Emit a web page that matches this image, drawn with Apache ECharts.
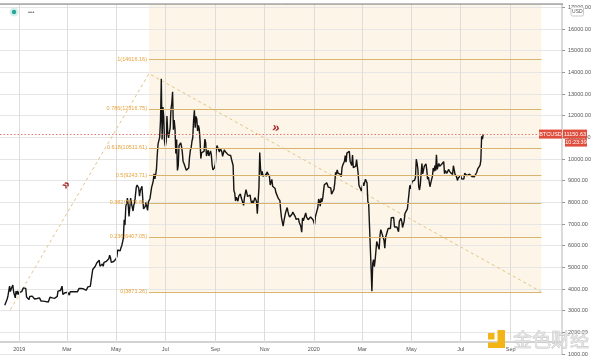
<!DOCTYPE html>
<html>
<head>
<meta charset="utf-8">
<script src="https://cdn.jsdelivr.net/npm/echarts@6/dist/echarts.min.js"></script>
<style>html,body{margin:0;padding:0;background:#fff;}#c{width:600px;height:357px;}</style>
</head>
<body>
<div id="c"></div>
<script>
// ---- Daily BTCUSD values (month blocks) ----
const dec2018 = [3250,3180,3250,3540,3690,3760,4130,3880,4010,3980,4180,3860,3880,3590,3900,3750,3910,3740];
const jan2019 = [3850,3930,3840,3880,3860,4050,4000,4010,4030,3630,3630,3610,3510,3660,3580,3630,3670,3620,3720,3540,3550,3590,3560,3600,3590,3590,3550,3440,3410,3460,3440];
const feb2019 = [3470,3500,3420,3430,3450,3400,3400,3620,3620,3660,3590,3600,3590,3570,3580,3610,3660,3900,3910,3970,3930,3990,4130,3750,3830,3810,3830,3830];
const mar2019 = [3840,3850,3820,3720,3870,3880,3890,3870,3940,3920,3870,3880,3870,3870,3920,4020,3990,3990,4030,4050,3990,4000,4010,4000,3940,3950,4100,4080,4150,4120,4120];
const apr2019 = [4140,4900,4980,4900,5040,5060,5200,5280,5180,5330,5050,5080,5080,5150,5050,5230,5260,5300,5280,5340,5300,5400,5560,5450,5230,5280,5280,5270,5250,5330];
const may2019 = [5400,5500,5800,5830,5780,5760,5900,6000,6170,6350,7200,6950,7800,7950,8200,7880,7350,7260,8200,7950,7950,7600,7880,7990,8050,8700,8800,8720,8660,8280,8550];
const jun2019 = [8560,8740,8200,7700,7790,7800,8000,7930,7630,8010,7920,8180,8230,8690,8830,8980,9320,9080,9270,9530,10200,10700,10850,11010,11770,13700,10900,12400,11960,10820];
const jul2019 = [10580,10800,11980,11210,10980,11220,11450,12300,12570,13100,11350,11800,11390,10250,10900,9470,9700,10620,10570,10750,10590,10330,9900,9800,9880,9850,9480,9530,9510,9590,10090];
const aug2019 = [10400,10520,10820,10980,11790,12250,11450,11970,11850,11290,11550,11390,10860,10020,10300,10360,10230,10350,10920,10760,10140,10120,10410,10140,10140,10370,10190,9720,9500,9580,9600];
const sep2019 = [9760,10390,10620,10590,10580,10320,10490,10410,10340,10120,10160,10420,10360,10310,10300,10250,10190,10160,10230,10160,9990,10030,9700,8530,8430,8060,8240,8210,8050,8290];
const oct2019 = [8340,8390,8220,8140,8130,7860,8210,8190,8590,8590,8270,8300,8320,8340,8100,7950,8080,7960,7960,8220,8240,8040,7470,7410,8660,10300,9550,9250,9430,9200,9150];
const nov2019 = [9250,9310,9200,9410,9320,9360,9200,8800,8820,9060,8740,8820,8760,8640,8460,8490,8500,8180,8120,8080,7620,7280,7330,6900,7140,7180,7520,7430,7760,7570];
const dec2019 = [7420,7320,7320,7250,7450,7550,7500,7520,7340,7220,7200,7190,7250,7070,7110,6880,6620,7280,7150,7190,7150,7510,7320,7250,7200,7200,7250,7320,7390,7250,7200];
const jan2020 = [7200,6980,7340,7350,7360,7760,8150,8050,7820,8190,8020,8180,8110,8810,8810,8720,8900,8910,8700,8630,8740,8670,8380,8430,8330,8600,8900,9390,9290,9500,9350];
const feb2020 = [9390,9340,9290,9180,9610,9730,9800,9900,10160,9850,10270,10350,10230,10360,9900,9930,9700,10180,9600,9610,9690,9670,9970,9650,9320,8780,8810,8710,8530];
const mar2020 = [8520,8910,8760,8750,9070,9150,8890,8030,7930,7910,7910,4970,3900,5170,5360,5030,5330,5410,6190,6200,6190,5830,6470,6740,6680,6730,6370,6250,5880,6390,6410];
const apr2020 = [6640,6790,6730,6860,6790,7290,7200,7370,7300,6860,6880,6910,6860,6880,6640,7120,7100,7260,7120,6840,6850,7130,7490,7510,7550,7700,7790,7750,8780,8620];
const may2020 = [8830,8970,8900,8880,9030,9150,9990,9810,9540,8730,8570,8820,9320,9790,9310,9380,9670,9730,9780,9510,9070,9170,9180,8720,8900,8840,9200,9580,9430,9700,9460];
const jun2020 = [10200,9520,9670,9800,9660,9670,9750,9780,9770,9880,9320,9470,9470,9340,9430,9520,9460,9390,9310,9360,9290,9690,9630,9300,9260,9170,9010,9120,9190,9140];
const jul2020 = [9240,9090,9060,9130,9080,9340,9250,9430,9230,9290,9240,9300,9240,9250,9190,9130,9160,9180,9210,9160,9390,9530,9610,9550,9710,9930,11050,10920,11150.63];

const monthBlocks = [
  ['2018-12-14', dec2018], ['2019-01-01', jan2019], ['2019-02-01', feb2019], ['2019-03-01', mar2019],
  ['2019-04-01', apr2019], ['2019-05-01', may2019], ['2019-06-01', jun2019], ['2019-07-01', jul2019],
  ['2019-08-01', aug2019], ['2019-09-01', sep2019], ['2019-10-01', oct2019], ['2019-11-01', nov2019],
  ['2019-12-01', dec2019], ['2020-01-01', jan2020], ['2020-02-01', feb2020], ['2020-03-01', mar2020],
  ['2020-04-01', apr2020], ['2020-05-01', may2020], ['2020-06-01', jun2020], ['2020-07-01', jul2020]
];

// ---- Fibonacci retracement ----
const fibRatios = ['1', '0.786', '0.618', '0.5', '0.382', '0.236', '0'];
const fibValues = [14616.16, 12316.75, 10511.61, 9243.71, 7975.81, 6407.05, 3871.26];
const fibStart = '2019-06-10T17:00';
const fibEnd = '2020-10-09T00:00';
// trend line anchors (date, price)
const trendDates = ['2018-12-21T00:00', '2019-06-10T17:00', '2020-10-09T00:00'];
const trendValues = [3050, 13940, 3871.26];

// ---- current price ----
const lastPrice = 11150.63;
const symbolName = 'BTCUSD';
const countdown = '10:23:39';

// ---- axis ticks ----
const xTickLabels = ['2019', 'Mar', 'May', 'Jul', 'Sep', 'Nov', '2020', 'Mar', 'May', 'Jul', 'Sep'];
const xTickDates = ['2019-01-01', '2019-03-01', '2019-05-01', '2019-07-01', '2019-09-01', '2019-11-01', '2020-01-01', '2020-03-01', '2020-05-01', '2020-07-01', '2020-09-01'];
const yMin = 1000, yMax = 17155, yStep = 1000;

const DAY = 86400000;
function ts(s) { const p = s.split('T'); const d = p[0].split('-').map(Number); let h = 0, m = 0; if (p[1]) { const t = p[1].split(':').map(Number); h = t[0]; m = t[1]; } return Date.UTC(d[0], d[1] - 1, d[2], h, m); }
const t2019 = ts('2019-01-01');
const xMin = t2019 - 23.9 * DAY;
const xMax = t2019 + 672.6 * DAY;

const pricePts = [];
monthBlocks.forEach(([start, vals]) => { const t0 = ts(start); vals.forEach((v, i) => pricePts.push([t0 + i * DAY, v])); });

const FONT = 'Liberation Sans, Arial, sans-serif';
const FIBLINE = '#d8b46e';
const FIBTXT = '#e6a33a';

const chart = echarts.init(document.getElementById('c'), null, { renderer: 'canvas' });

const option = {
  animation: false,
  backgroundColor: '#ffffff',
  grid: [
    { left: 0, right: 38, top: 4, height: 354.1 },
    { left: 0, right: 38, top: 4, bottom: 15 }
  ],
  xAxis: [
    { type: 'time', gridIndex: 0, min: xMin, max: xMax, show: false },
    { type: 'time', gridIndex: 1, min: xMin, max: xMax, show: true,
      axisLine: { show: true, lineStyle: { color: '#d2d2d2', width: 2 } },
      axisTick: { show: false }, axisLabel: { show: false }, splitLine: { show: false } }
  ],
  yAxis: [
    { type: 'value', gridIndex: 0, position: 'right', min: yMin, max: yMax, interval: yStep, z: 2,
      axisLine: { show: true, lineStyle: { color: '#cfcfcf', width: 1.5 } },
      axisTick: { show: true, length: 3, lineStyle: { color: '#999' } },
      axisLabel: { show: true, margin: 6, fontSize: 5.5, color: '#555', fontFamily: FONT,
        formatter: v => v.toFixed(2) },
      splitLine: { show: true, lineStyle: { color: '#e6e6e6', width: 1 } } },
    { type: 'value', gridIndex: 1, min: 0, max: 1, show: false }
  ],
  series: [
    { // fib background
      type: 'line', xAxisIndex: 0, yAxisIndex: 0, z: 1, data: [], silent: true,
      markArea: { silent: true, itemStyle: { color: '#fdf5e7' },
        data: [[{ coord: [ts(fibStart), fibValues[fibValues.length - 1]] }, { coord: [ts(fibEnd), yMax] }]] }
    },
    { // vertical grid lines + month labels
      type: 'line', xAxisIndex: 1, yAxisIndex: 1, z: 2, data: [[xMin, 0.5]], symbol: 'none', lineStyle: { opacity: 0 }, silent: true,
      markLine: { silent: true, symbol: 'none', animation: false,
        lineStyle: { color: '#e0ddd8', type: 'solid', width: 1 },
        label: { show: true, position: 'start', formatter: '{b}', color: '#555', fontSize: 5.5, fontFamily: FONT, distance: 4 },
        data: xTickDates.map((d, i) => ({ name: xTickLabels[i], xAxis: ts(d) })) }
    },
    { // fib levels
      type: 'line', xAxisIndex: 0, yAxisIndex: 0, z: 3, data: [], silent: true,
      markLine: { silent: true, symbol: 'none', animation: false,
        lineStyle: { color: FIBLINE, type: 'solid', width: 1 },
        label: { show: true, position: 'start', color: FIBTXT, fontSize: 5.5, fontFamily: FONT, distance: 2, padding: [0, 0, 5, 0] },
        data: fibValues.map((v, i) => [
          { coord: [ts(fibStart), v], name: fibRatios[i] + '(' + v.toFixed(2) + ')', label: { formatter: fibRatios[i] + '(' + v.toFixed(2) + ')' } },
          { coord: [ts(fibEnd), v] }
        ]) }
    },
    { // trend line
      type: 'line', xAxisIndex: 0, yAxisIndex: 0, z: 3, symbol: 'none', silent: true,
      lineStyle: { color: '#e3c487', width: 1, type: [3, 3] },
      data: trendDates.map((d, i) => [ts(d), trendValues[i]])
    },
    { // price
      type: 'line', xAxisIndex: 0, yAxisIndex: 0, z: 4, symbol: 'none', showSymbol: false, sampling: false,
      lineStyle: { color: '#141414', width: 1.4 },
      data: pricePts,
      markLine: { silent: true, symbol: 'none', animation: false, label: { show: false },
        lineStyle: { color: '#e47b72', type: [1.5, 2], width: 1 },
        data: [{ yAxis: lastPrice }] }
    }
  ]
};
chart.setOption(option);

const py = chart.convertToPixel({ xAxisIndex: 0, yAxisIndex: 0 }, [xMin, lastPrice])[1];
const RED = '#df4e3c';
chart.setOption({
  graphic: [
    { type: 'line', shape: { x1: 0, y1: 4, x2: 563, y2: 4 }, style: { stroke: '#7a7a7a', lineWidth: 1 }, z: 20 },
    { type: 'rect', shape: { x: 0, y: 0, width: 600, height: 3.5 }, style: { fill: '#fff' }, z: 19 },
    // top-left status
    { type: 'circle', shape: { cx: 14, cy: 12, r: 4.5 }, style: { fill: '#d6efec' }, z: 20 },
    { type: 'circle', shape: { cx: 14, cy: 12, r: 2.2 }, style: { fill: '#26a69a' }, z: 21 },
    { type: 'text', x: 28, y: 12, style: { text: '•••', fill: '#666', fontSize: 6, fontFamily: FONT, verticalAlign: 'middle' }, z: 20 },
    // USD box
    { type: 'rect', shape: { x: 571, y: 7, width: 12.5, height: 9, r: 1.5 }, style: { fill: '#fff', stroke: '#bbb', lineWidth: 0.8 }, z: 20 },
    { type: 'text', x: 577.3, y: 11.7, style: { text: 'USD', fill: '#555', fontSize: 5, fontFamily: FONT, align: 'center', verticalAlign: 'middle' }, z: 21 },
    // price tags
    { type: 'rect', shape: { x: 539, y: py - 4.5, width: 23, height: 9 }, style: { fill: RED }, z: 20 },
    { type: 'text', x: 550.5, y: py, style: { text: symbolName, fill: '#fff', fontSize: 5.5, fontFamily: FONT, align: 'center', verticalAlign: 'middle' }, z: 21 },
    { type: 'rect', shape: { x: 563, y: py - 4.5, width: 24, height: 9 }, style: { fill: RED }, z: 20 },
    { type: 'text', x: 575, y: py, style: { text: lastPrice.toFixed(2), fill: '#fff', fontSize: 5.5, fontFamily: FONT, align: 'center', verticalAlign: 'middle' }, z: 21 },
    { type: 'rect', shape: { x: 565, y: py + 5, width: 22, height: 7.5 }, style: { fill: RED }, z: 20 },
    { type: 'text', x: 576, y: py + 8.8, style: { text: countdown, fill: '#fff', fontSize: 5.5, fontFamily: FONT, align: 'center', verticalAlign: 'middle' }, z: 21 },
    // red chevrons
    { type: 'text', x: 66, y: 185, rotation: Math.PI / 4, style: { text: '»', fill: '#a3282a', fontSize: 13, fontWeight: 'bold', fontFamily: FONT, align: 'center', verticalAlign: 'middle' }, z: 20 },
    { type: 'text', x: 276, y: 128, rotation: -0.2, style: { text: '»', fill: '#a3282a', fontSize: 13, fontWeight: 'bold', fontFamily: FONT, align: 'center', verticalAlign: 'middle' }, z: 20 },
    // watermark
    { type: 'rect', shape: { x: 497.5, y: 330, width: 7.5, height: 18 }, style: { fill: '#f3b416' }, z: 30 },
    { type: 'rect', shape: { x: 488, y: 342.5, width: 17, height: 5.5 }, style: { fill: '#f3b416' }, z: 30 },
    { type: 'rect', shape: { x: 488, y: 333, width: 6.5, height: 6.5 }, style: { fill: '#f3b416' }, z: 30 },
    { type: 'text', x: 513, y: 340, style: { text: '金色财经', fill: '#e2e2e2', stroke: '#bdbdbd', lineWidth: 0.6, fontSize: 19, fontFamily: 'Noto Sans CJK SC', verticalAlign: 'middle' }, z: 30 }
  ]
});
</script>
</body>
</html>
